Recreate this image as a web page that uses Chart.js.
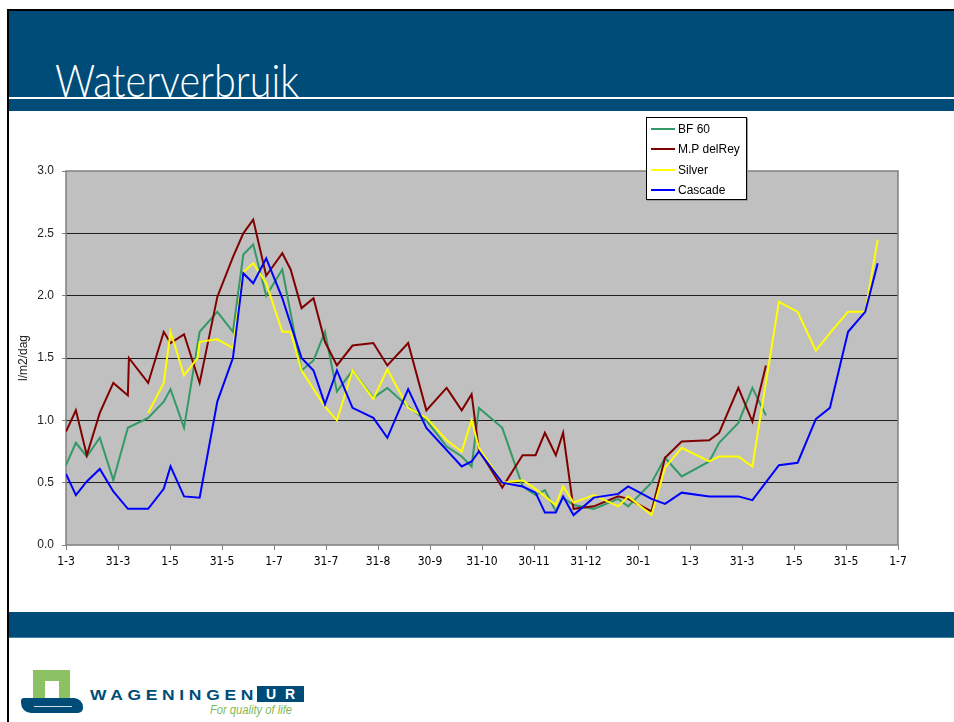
<!DOCTYPE html>
<html>
<head>
<meta charset="utf-8">
<script src="https://cdn.jsdelivr.net/npm/chart.js@4.4.0/dist/chart.umd.min.js"></script>
<style>
  html, body { margin: 0; padding: 0; background: #fff; }
  #slide { position: relative; width: 954px; height: 722px; overflow: hidden; background: #fff;
    font-family: 'Liberation Sans', Arial, sans-serif; }
  .abs { position: absolute; }
  #borderTop { left: 7px; top: 9px; right: 0; height: 2px; background: #000; }
  #borderLeft { left: 7px; top: 9px; width: 2px; bottom: 0; background: #000; }
  #header { left: 9px; top: 11px; right: 0; height: 100px; background: #004c78; }
  #headerLine { left: 9px; top: 97px; right: 0; height: 2px; background: #fff; }
  #title { left: 55px; top: 57px; color: #fff; font-size: 46px; line-height: 46px; font-weight: 300;
    font-family: Lato, 'Liberation Sans', sans-serif; white-space: nowrap; transform-origin: 0 0; }
  #footer { left: 9px; top: 612px; right: 0; height: 25px; background: #004c78; }
  #footerLine { left: 9px; top: 637px; right: 0; height: 1px; background: #3f7fa6; }
  #chartBox { left: 0; top: 112px; width: 954px; height: 490px; }
  #legend { left: 646px; top: 117px; width: 99px; height: 80px; background: #fff; border: 1px solid #000;
    box-shadow: 1px 1px 0 #9a9a9a; padding-top: 1px; }
  .row { height: 20.3px; display: flex; align-items: center; font-size: 12px; color: #000; white-space: nowrap; }
  .swatch { width: 24px; height: 2px; margin-left: 4px; margin-right: 3px; }
  #arch { left: 33px; top: 670px; width: 37px; height: 30px; background: #8cc164; }
  #archHole { left: 45px; top: 681px; width: 14px; height: 20px; background: #fff; }
  #base { left: 21px; top: 698px; width: 62px; height: 15px; background: #004c78;
    border-radius: 3px 9px 5px 10px; }
  #wave { left: 34px; top: 706px; width: 38px; height: 1px; background: #fff; opacity: 0.8; }
  #wur { left: 90px; top: 687px; font-size: 15px; line-height: 15px; letter-spacing: 4px; font-weight: bold;
    color: #004c78; white-space: nowrap; transform-origin: 0 0; }
  #urBox { left: 257px; top: 686px; width: 47px; height: 16px; background: #004c78; color: #fff;
    font-size: 14px; line-height: 16px; font-weight: bold; text-align: center; letter-spacing: 9px; text-indent: 9px; }
  #slogan { left: 210px; top: 704px; font-size: 12px; line-height: 12px; font-style: italic; color: #7fb955;
    white-space: nowrap; transform-origin: 0 0; }
</style>
</head>
<body>
<div id="slide">
  <div class="abs" id="header"></div>
  <div class="abs" id="headerLine"></div>
  <div class="abs" id="title">Waterverbruik</div>
  <div class="abs" id="borderTop"></div>
  <div class="abs" id="borderLeft"></div>
  <div class="abs" id="chartBox"><canvas id="chart" width="954" height="490"></canvas></div>
  <div class="abs" id="legend"></div>
  <div class="abs" id="footer"></div>
  <div class="abs" id="footerLine"></div>
  <div class="abs" id="arch"></div>
  <div class="abs" id="archHole"></div>
  <div class="abs" id="base"></div>
  <div class="abs" id="wave"></div>
  <div class="abs" id="wur">WAGENINGEN</div>
  <div class="abs" id="urBox">UR</div>
  <div class="abs" id="slogan">For quality of life</div>
</div>
<script>
// x axis: one unit per labelled tick (roughly one month)
const tickLabels = ["1-3", "31-3", "1-5", "31-5", "1-7", "31-7", "31-8", "30-9", "31-10",
  "30-11", "31-12", "30-1", "1-3", "31-3", "1-5", "31-5", "1-7"]

// measurement dates, in tick units
const samplePos = [0.00, 0.19, 0.40, 0.65, 0.91, 1.19, 1.21, 1.58, 1.88, 2.01,
  2.27, 2.53, 2.57, 2.91, 3.21, 3.41, 3.60, 3.85, 4.16, 4.32,
  4.53, 4.76, 4.98, 5.21, 5.51, 5.91, 6.18, 6.58, 6.93, 7.32,
  7.61, 7.80, 7.94, 8.39, 8.78, 9.03, 9.21, 9.42, 9.56, 9.76,
  10.15, 10.62, 10.81, 11.26, 11.52, 11.84, 12.37, 12.56, 12.93, 13.20,
  13.46, 13.71, 14.07, 14.42, 14.69, 15.04, 15.37, 15.61]

// l/m2/dag
const bf60 = [0.64, 0.82, 0.71, 0.86, 0.52, 0.94, null, 1.02, 1.15, 1.25,
  0.94, null, 1.71, 1.87, 1.71, 2.33, 2.41, 2.00, 2.21, null,
  1.40, 1.48, 1.71, 1.23, 1.40, 1.18, 1.26, 1.11, 1.00, 0.79,
  0.71, 0.63, 1.10, 0.94, 0.47, 0.40, 0.44, 0.27, 0.38, 0.32,
  0.29, 0.37, 0.31, 0.50, 0.70, 0.55, 0.67, 0.82, 0.98, 1.26,
  1.04, null, null, null, null, null, null, null]
const delRey = [0.91, 1.08, 0.72, 1.06, 1.30, 1.20, 1.50, 1.30, 1.71, 1.62,
  1.69, null, 1.30, 1.99, 2.31, 2.50, 2.61, 2.16, 2.34, 2.21,
  1.90, 1.98, 1.63, 1.44, 1.60, 1.62, 1.44, 1.62, 1.08, 1.26,
  1.08, 1.21, 0.76, 0.46, 0.72, 0.72, 0.90, 0.72, 0.90, 0.29,
  0.31, 0.39, 0.37, 0.27, 0.70, 0.83, 0.84, 0.90, 1.26, 0.99,
  1.44, null, null, null, null, null, null, null]
const silver = [null, null, null, null, null, null, null, 1.06, 1.30, 1.71,
  1.36, 1.50, 1.63, 1.65, 1.58, 2.19, 2.26, 2.10, 1.71, 1.71,
  1.40, null, 1.11, 1.00, 1.40, 1.17, 1.41, 1.10, 1.02, 0.84,
  0.75, 1.00, 0.78, 0.50, 0.52, 0.45, null, 0.32, 0.47, 0.34,
  0.40, 0.31, 0.39, 0.24, 0.62, 0.78, 0.67, 0.71, 0.71, 0.63,
  null, 1.95, 1.87, 1.56, 1.70, 1.87, 1.87, 2.45]
const cascade = [0.57, 0.40, 0.51, 0.61, 0.43, 0.29, null, 0.29, 0.45, 0.63,
  0.39, null, 0.38, 1.15, 1.50, 2.18, 2.10, 2.30, 1.98, null,
  1.50, 1.40, 1.13, 1.40, 1.10, 1.02, 0.86, 1.25, 0.94, null,
  0.63, 0.67, 0.75, 0.50, 0.47, 0.42, 0.26, 0.26, 0.39, 0.24,
  0.38, 0.41, 0.47, 0.37, 0.33, 0.42, 0.39, null, 0.39, 0.36,
  null, 0.64, 0.66, 1.01, 1.10, 1.71, 1.87, 2.26]

const seriesNames = ["BF 60", "M.P delRey", "Silver", "Cascade"]
const seriesColors = ["#339966", "#800000", "#ffff00", "#0000ff"]
const seriesValues = [bf60, delRey, silver, cascade]

const narrow = "'Liberation Sans Narrow', 'DejaVu Sans Condensed', sans-serif"

function toPoints(values) {
  return samplePos.map((x, i) => ({x: x, y: values[i]}))
}

// squeeze a text element horizontally to the width it has on the slide
function fitWidth(id, target) {
  const el = document.getElementById(id)
  const w = el.getBoundingClientRect().width
  if (w > 0) el.style.transform = "scaleX(" + (target / w) + ")"
}

// grey plot area with a thin frame, like the old Excel default
const plotFrame = {
  id: "plotFrame",
  beforeDraw(chart) {
    const {ctx, chartArea: a} = chart
    ctx.save()
    ctx.fillStyle = "#c0c0c0"
    ctx.fillRect(a.left, a.top, a.width, a.height)
    ctx.restore()
  },
  beforeDatasetsDraw(chart) {
    const {ctx, chartArea: a} = chart
    ctx.save()
    ctx.strokeStyle = "#808080"
    ctx.lineWidth = 1.5
    ctx.strokeRect(a.left, a.top, a.width, a.height)
    ctx.restore()
  },
}

const datasets = seriesNames.map((name, i) => ({
  label: name,
  data: toPoints(seriesValues[i]),
  borderColor: seriesColors[i],
  backgroundColor: seriesColors[i],
  borderWidth: 2,
  pointRadius: 0,
  tension: 0,
  spanGaps: true,
  order: seriesNames.length - i,
}))

const chart = new Chart(document.getElementById("chart"), {
  type: "line",
  data: {datasets: datasets},
  options: {
    responsive: false,
    animation: false,
    devicePixelRatio: 1,
    layout: {padding: {left: 0, right: 56, top: 59, bottom: 27}},
    plugins: {legend: {display: false}, tooltip: {enabled: false}},
    scales: {
      x: {
        type: "linear",
        min: 0,
        max: 16,
        afterFit: (s) => { s.height = 30 },
        border: {display: false},
        grid: {drawOnChartArea: false, drawTicks: true, tickLength: 5, tickColor: "#808080"},
        ticks: {
          stepSize: 1,
          maxTicksLimit: 40,
          autoSkip: false,
          maxRotation: 0,
          padding: 5,
          color: "#000",
          font: {family: narrow, size: 12},
          callback: (v) => tickLabels[v],
        },
      },
      y: {
        min: 0,
        max: 3,
        afterFit: (s) => { s.width = 66 },
        border: {display: false},
        grid: {
          tickLength: 4,
          tickColor: "#808080",
          color: (c) => (c.tick.value === 0 || c.tick.value === 3 ? "rgba(0,0,0,0)" : "#1e1e1e"),
        },
        ticks: {
          stepSize: 0.5,
          padding: 8,
          color: "#222",
          font: {family: "'Liberation Sans', Arial, sans-serif", size: 12},
          callback: (v) => v.toFixed(1),
        },
        title: {
          display: true,
          text: "l/m2/dag",
          color: "#222",
          padding: {top: 16, bottom: 0},
          font: {family: "'Liberation Sans', Arial, sans-serif", size: 12},
        },
      },
    },
  },
  plugins: [plotFrame],
})

// legend box, built from the datasets
const legendEl = document.getElementById("legend")
chart.data.datasets.forEach((ds) => {
  const row = document.createElement("div")
  row.className = "row"
  const sw = document.createElement("div")
  sw.className = "swatch"
  sw.style.background = ds.borderColor
  const txt = document.createElement("span")
  txt.textContent = ds.label
  row.appendChild(sw)
  row.appendChild(txt)
  legendEl.appendChild(row)
})

fitWidth("title", 244)
fitWidth("wur", 168)
fitWidth("slogan", 82)
</script>
</body>
</html>
